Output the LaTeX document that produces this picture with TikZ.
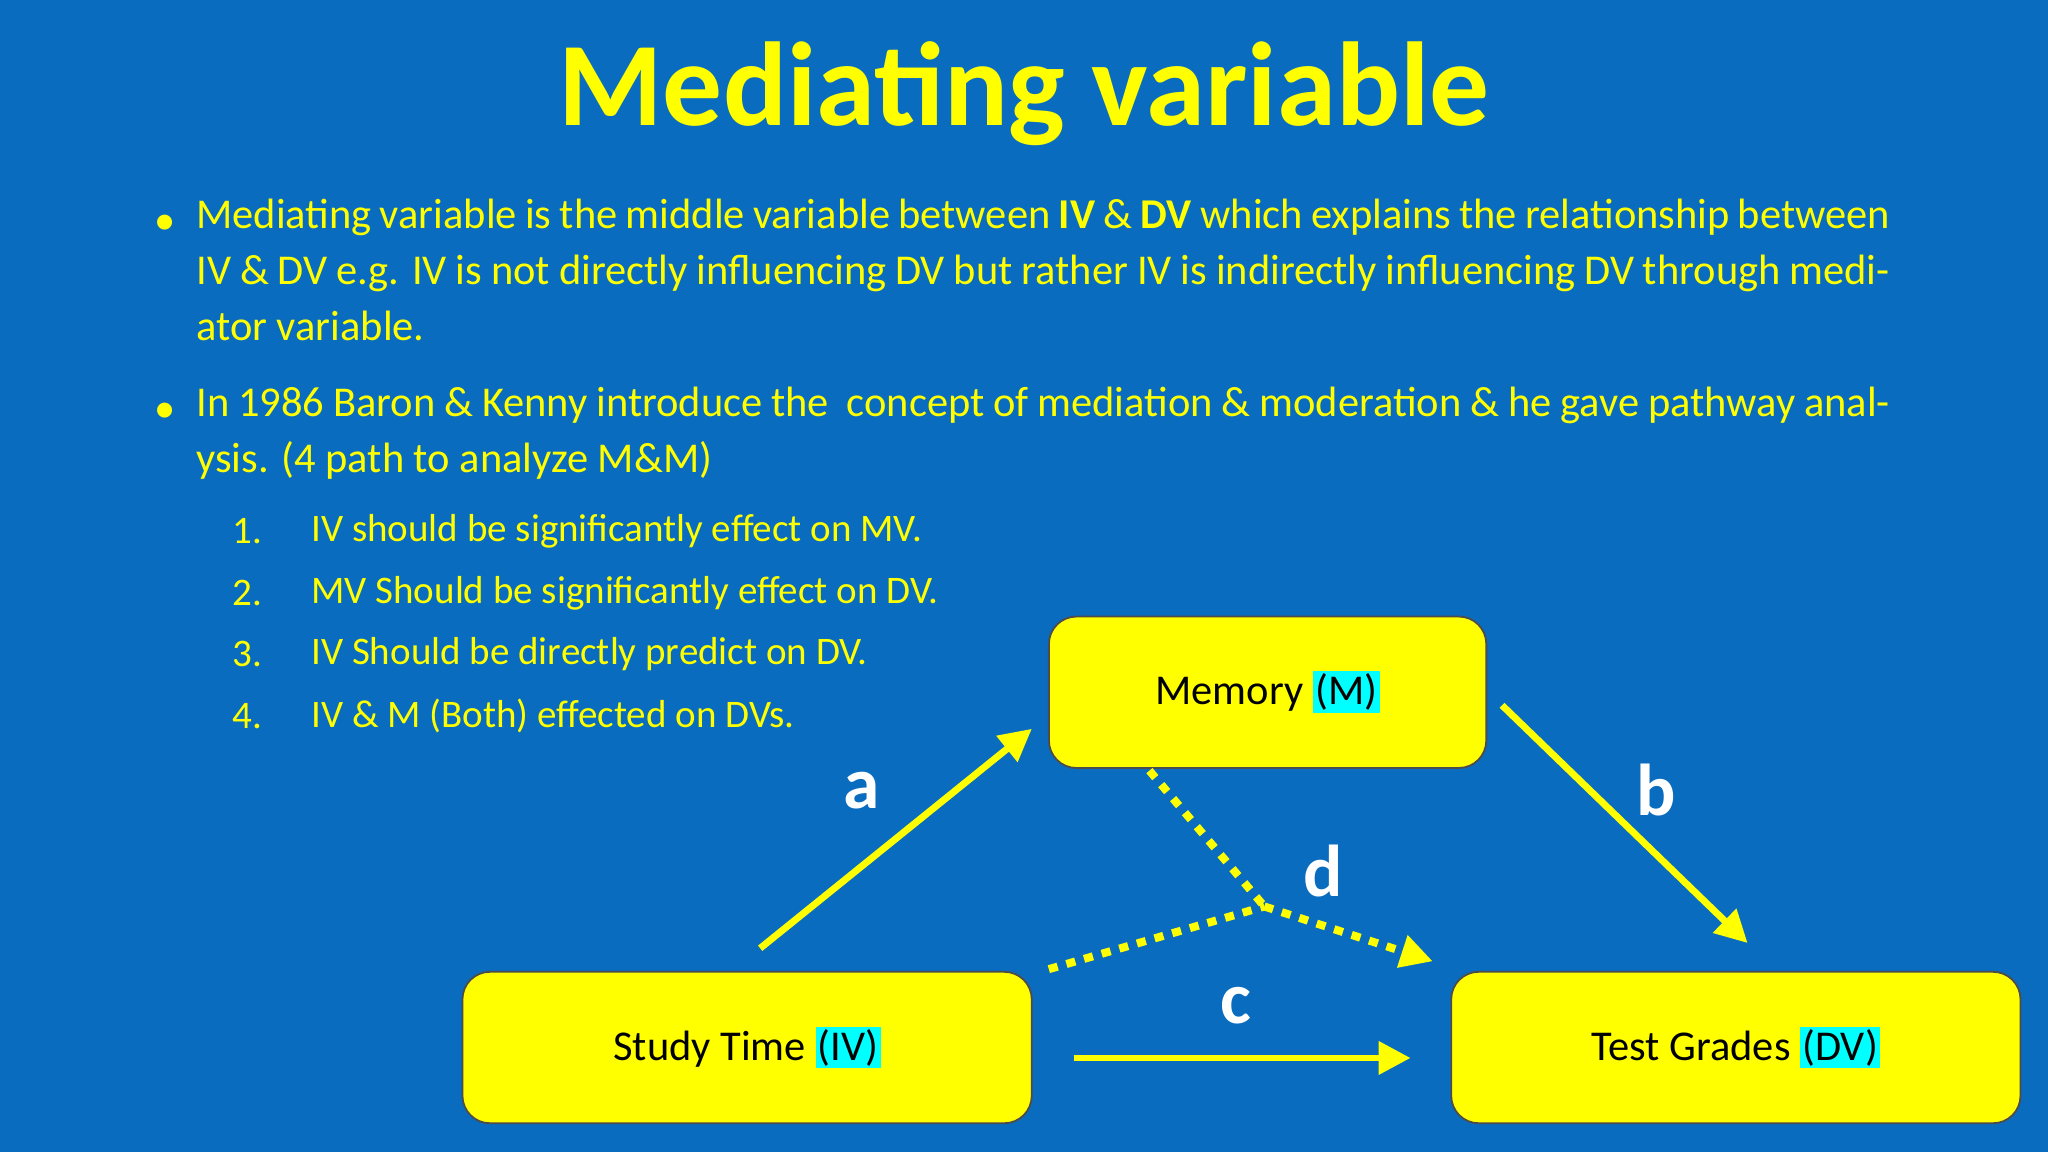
\documentclass[tikz,border=0pt]{standalone}
\usepackage{fontspec}
\setmainfont{Carlito}
\usetikzlibrary{arrows.meta}
\definecolor{bg}{HTML}{0A6CBF}
\definecolor{yel}{HTML}{FFFF00}
\definecolor{cy}{HTML}{00FFFF}
\tikzset{
 box/.style={draw=black!70,line width=0.8pt,fill=yel,rounded corners=12pt,inner sep=0pt},
 arr/.style={yel,line width=3pt,-{Triangle[length=14pt,width=14pt]}},
 dot/.style={yel,line width=3.5pt,dash pattern=on 4pt off 4pt},
 lab/.style={white,font=\fontsize{32}{36}\selectfont\bfseries},
 btxt/.style={font=\fontsize{18.5}{23}\selectfont}
}
\newcommand{\hl}[1]{\setlength{\fboxsep}{1pt}\colorbox{cy}{#1}}
\begin{document}
\begin{tikzpicture}[x=0.02cm,y=-0.02cm]
\fill[bg] (0,0) rectangle (1568,882);
\useasboundingbox (0,0) rectangle (1568,882);
\node[yel,font=\fontsize{52}{60}\selectfont\bfseries] (title) at (784,72) {Mediating variable};
\node[yel,anchor=north west,text width=25.94cm,align=justify,inner sep=0pt,font=\fontsize{18.5}{24.4}\selectfont] (p1) at (150,152)
{Mediating variable is the middle variable between \textbf{IV} \& \textbf{DV} which explains the relationship between IV \& DV e.g. IV is not directly influencing DV but rather IV is indirectly influencing DV through mediator variable.};
\node[yel,font=\fontsize{18.5}{23}\selectfont] (b1) at (126,172) {•};
\node[yel,anchor=north west,text width=25.94cm,align=justify,inner sep=0pt,font=\fontsize{18.5}{24.4}\selectfont] (p2) at (150,296)
{In 1986 Baron \& Kenny introduce the\ \ concept of mediation \& moderation \& he gave pathway analysis. (4 path to analyze M\&M)};
\node[yel,font=\fontsize{18.5}{23}\selectfont] (b2) at (126,316) {•};
\foreach \n/\t/\y in {1/IV should be significantly effect on MV./407,2/MV Should be significantly effect on DV./454,3/IV Should be directly predict on DV./501,4/IV \& M (Both) effected on DVs./548}{
 \node[yel,anchor=west,font=\fontsize{17}{20}\selectfont,inner sep=0pt] (n\n) at (178,\y) {\n.};
 \node[yel,anchor=west,font=\fontsize{17}{20}\selectfont,inner sep=0pt] (t\n) at (238,\y) {\t};
}
\node[box,minimum width=6.7cm,minimum height=2.32cm,btxt] (M) at (970.5,530) {Memory \hl{(M)}};
\node[box,minimum width=8.72cm,minimum height=2.32cm,btxt] (IV) at (572,802) {Study Time \hl{(IV)}};
\node[box,minimum width=8.72cm,minimum height=2.32cm,btxt] (DV) at (1329,802) {Test Grades \hl{(DV)}};
\coordinate (a1) at (582,726); \coordinate (a2) at (790,558);
\coordinate (b1) at (1150,540); \coordinate (b2) at (1338,722);
\coordinate (c1) at (822,810); \coordinate (c2) at (1080,810);
\coordinate (d0) at (880,590); \coordinate (dj) at (968,694);
\coordinate (d1) at (803,742); \coordinate (d2) at (1097,736);
\draw[arr] (a1) -- (a2);
\draw[arr] (b1) -- (b2);
\draw[arr] (c1) -- (c2);
\draw[dot] (d0) -- (dj);
\draw[dot] (d1) -- (dj);
\draw[dot,-{Triangle[length=14pt,width=14pt]}] (dj) -- (d2);
\node[lab] (la) at (660,605) {a};
\node[lab] (lb) at (1268,605) {b};
\node[lab] (lc) at (946,770) {c};
\node[lab] (ld) at (1013,667) {d};
\end{tikzpicture}
\end{document}
